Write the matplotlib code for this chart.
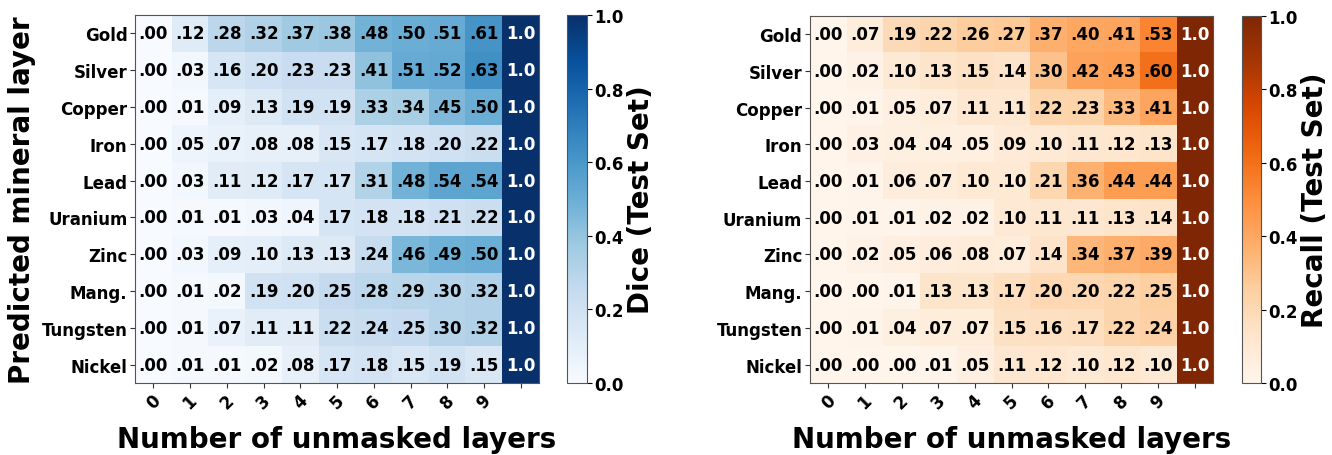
#!/usr/bin/env python3
"""Dice / Recall heatmaps vs number of unmasked layers."""
import matplotlib
matplotlib.use('Agg')
import matplotlib.pyplot as plt
import numpy as np

minerals = ['Gold', 'Silver', 'Copper', 'Iron', 'Lead', 'Uranium',
            'Zinc', 'Mang.', 'Tungsten', 'Nickel']
layer_labels = ['0', '1', '2', '3', '4', '5', '6', '7', '8', '9', '']

# last column = all layers unmasked (1.0)
dice = [
    [.00, .12, .28, .32, .37, .38, .48, .50, .51, .61, 1.0],
    [.00, .03, .16, .20, .23, .23, .41, .51, .52, .63, 1.0],
    [.00, .01, .09, .13, .19, .19, .33, .34, .45, .50, 1.0],
    [.00, .05, .07, .08, .08, .15, .17, .18, .20, .22, 1.0],
    [.00, .03, .11, .12, .17, .17, .31, .48, .54, .54, 1.0],
    [.00, .01, .01, .03, .04, .17, .18, .18, .21, .22, 1.0],
    [.00, .03, .09, .10, .13, .13, .24, .46, .49, .50, 1.0],
    [.00, .01, .02, .19, .20, .25, .28, .29, .30, .32, 1.0],
    [.00, .01, .07, .11, .11, .22, .24, .25, .30, .32, 1.0],
    [.00, .01, .01, .02, .08, .17, .18, .15, .19, .15, 1.0],
]
recall = [
    [.00, .07, .19, .22, .26, .27, .37, .40, .41, .53, 1.0],
    [.00, .02, .10, .13, .15, .14, .30, .42, .43, .60, 1.0],
    [.00, .01, .05, .07, .11, .11, .22, .23, .33, .41, 1.0],
    [.00, .03, .04, .04, .05, .09, .10, .11, .12, .13, 1.0],
    [.00, .01, .06, .07, .10, .10, .21, .36, .44, .44, 1.0],
    [.00, .01, .01, .02, .02, .10, .11, .11, .13, .14, 1.0],
    [.00, .02, .05, .06, .08, .07, .14, .34, .37, .39, 1.0],
    [.00, .00, .01, .13, .13, .17, .20, .20, .22, .25, 1.0],
    [.00, .01, .04, .07, .07, .15, .16, .17, .22, .24, 1.0],
    [.00, .00, .00, .01, .05, .11, .12, .10, .12, .10, 1.0],
]


def fmt(v):
    if v >= 1.0:
        return '1.0'
    return f'{v:.2f}'[1:]


def draw(fig, rect, cbar_rect, data, cmap, cbar_label, ylabel=None):
    data = np.array(data)
    ax = fig.add_axes(rect)
    im = ax.imshow(data, cmap=cmap, vmin=0, vmax=1, aspect='auto')
    for i in range(data.shape[0]):
        for j in range(data.shape[1]):
            v = data[i, j]
            ax.text(j, i, fmt(v), ha='center', va='center', fontsize=12,
                    fontweight='bold', color='white' if v > 0.7 else 'black')
    ax.set_xticks(range(len(layer_labels)))
    ax.set_xticklabels(layer_labels, rotation=45, fontsize=12, fontweight='bold')
    ax.set_yticks(range(len(minerals)))
    ax.set_yticklabels(minerals, fontsize=12, fontweight='bold')
    ax.tick_params(length=3.5, color='#333333', pad=2)
    for s in ax.spines.values():
        s.set_color('#555555')
    ax.set_xlabel('Number of unmasked layers', fontsize=20, fontweight='bold',
                  labelpad=10)
    if ylabel:
        ax.set_ylabel(ylabel, fontsize=20, fontweight='bold', labelpad=4)

    cax = fig.add_axes(cbar_rect)
    cb = fig.colorbar(im, cax=cax)
    cb.set_ticks([0, 0.2, 0.4, 0.6, 0.8, 1.0])
    cb.ax.tick_params(labelsize=12, length=3.5, pad=2)
    for t in cb.ax.get_yticklabels():
        t.set_fontweight('bold')
    cb.outline.set_edgecolor('#555555')
    cb.set_label(cbar_label, fontsize=20, fontweight='bold', labelpad=2)
    return ax


fig = plt.figure(figsize=(13.32, 4.56), dpi=100)
draw(fig, [0.1014, 0.158, 0.3033, 0.807], [0.4257, 0.158, 0.0150, 0.807],
     dice, 'Blues', 'Dice (Test Set)', ylabel='Predicted mineral layer')
draw(fig, [0.6081, 0.158, 0.3026, 0.805], [0.9324, 0.158, 0.0143, 0.805],
     recall, 'Oranges', 'Recall (Test Set)')

plt.savefig('out.png', dpi=100)
print("Saved: out.png")
